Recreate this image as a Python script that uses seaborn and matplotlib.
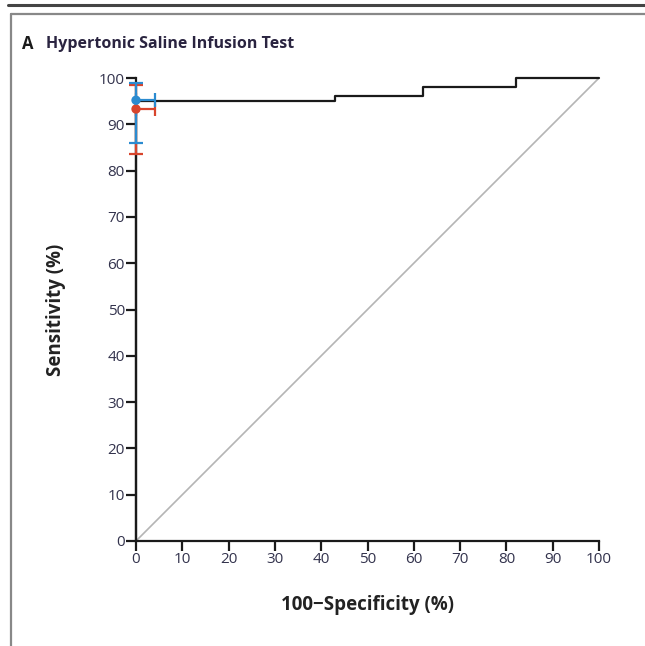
import matplotlib
matplotlib.use("Agg")
import matplotlib.pyplot as plt
import seaborn as sns
import pandas as pd
from matplotlib.lines import Line2D

# ROC curve (100 - specificity, sensitivity)
roc_fpr = [0, 0, 43, 62, 82, 100]
roc_tpr = [0, 95.1, 96.2, 98.1, 100, 100]

# operating points with 95% CI (drawn red first, then blue)
pt_names = ["red", "blue"]
pt_fpr = [0, 0]
pt_tpr = [93.3, 95.2]
pt_tpr_lo = [83.5, 86.0]
pt_tpr_hi = [98.5, 99.0]
pt_fpr_hi = [4.1, 4.1]
pt_colors = ["#d8452d", "#2b8bd0"]

xticks = [0, 10, 20, 30, 40, 50, 60, 70, 80, 90, 100]
yticks = [0, 10, 20, 30, 40, 50, 60, 70, 80, 90, 100]

sns.set_style("white")
plt.rcParams['font.family'] = ['Open Sans', 'DejaVu Sans']

fig = plt.figure(figsize=(6.45, 6.46), dpi=100)
ax = fig.add_axes([136/645, 1-541/646, 463/645, 463/646])

# chance diagonal
diag = pd.DataFrame({"x": [0, 100], "y": [0, 100]})
sns.lineplot(data=diag, x="x", y="y", ax=ax, color="#b5b5b5", lw=1.2,
             estimator=None, sort=False)

roc = pd.DataFrame({"fpr": roc_fpr, "tpr": roc_tpr})
sns.lineplot(data=roc, x="fpr", y="tpr", ax=ax, color="#1a1a1a", lw=1.6,
             estimator=None, sort=False, drawstyle="steps-post", clip_on=False)

for i in range(len(pt_names)):
    ax.errorbar(pt_fpr[i], pt_tpr[i],
                yerr=[[pt_tpr[i]-pt_tpr_lo[i]], [pt_tpr_hi[i]-pt_tpr[i]]],
                xerr=[[0], [pt_fpr_hi[i]-pt_fpr[i]]],
                fmt="none", ecolor=pt_colors[i], elinewidth=1.6, capsize=5,
                capthick=1.6, clip_on=False, zorder=4 + i)
pts = pd.DataFrame({"x": pt_fpr, "y": pt_tpr, "c": pt_names})
sns.scatterplot(data=pts, x="x", y="y", hue="c", palette=pt_colors, ax=ax,
                s=45, edgecolor="none", legend=False, clip_on=False, zorder=6)

ax.set_xlim(0, 100)
ax.set_ylim(0, 100)
ax.set_xticks(xticks)
ax.set_yticks(yticks)
for s in ["top", "right"]:
    ax.spines[s].set_visible(False)
for s in ["left", "bottom"]:
    ax.spines[s].set_color("#1a1a1a")
    ax.spines[s].set_linewidth(1.6)
ax.tick_params(axis="both", direction="out", length=7, width=1.6,
               bottom=True, left=True,
               color="#1a1a1a", labelsize=11, labelcolor="#33334d", pad=1)
ax.set_xlabel("100\u2212Specificity (%)", fontsize=13.5, fontweight="bold",
              color="#222222", labelpad=20)
ax.set_ylabel("Sensitivity (%)", fontsize=13.5, fontweight="bold",
              color="#222222", labelpad=24)

# frame lines
fig.add_artist(Line2D([8/645, 1], [1-5/646, 1-5/646], color="#444444", lw=2.2))
fig.add_artist(Line2D([11/645, 1], [1-14/646, 1-14/646], color="#888888", lw=1.6))
fig.add_artist(Line2D([11/645, 11/645], [0, 1-14/646], color="#888888", lw=1.6))

fig.text(22/645, 1-44/646, "A", fontsize=12, fontweight="bold", color="#1a1a1a",
         va="center", ha="left")
fig.text(46/645, 1-44/646, "Hypertonic Saline Infusion Test", fontsize=11.5,
         fontweight="bold", color="#2a2440", va="center", ha="left")

fig.savefig("out.png", dpi=100)
